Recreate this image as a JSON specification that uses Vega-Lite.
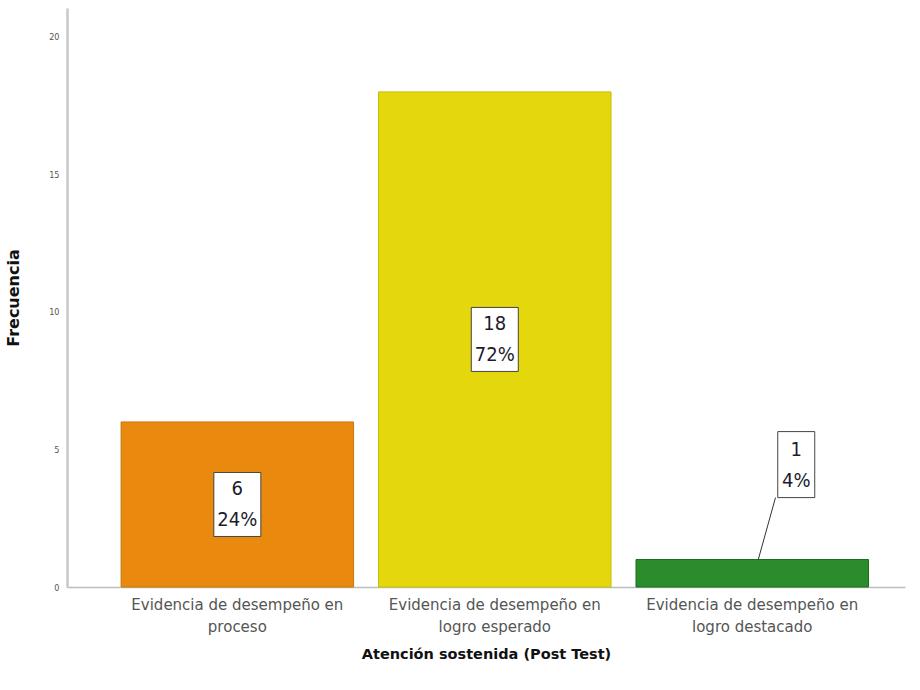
{
  "$schema": "https://vega.github.io/schema/vega-lite/v6.json",
  "autosize": "none",
  "padding": {"left": 67, "top": 8, "right": 15, "bottom": 103},
  "width": 838,
  "height": 579,
  "background": "white",
  "config": {"view": {"stroke": null}, "font": "DejaVu Sans Condensed, Liberation Sans, sans-serif"},
  "data": {"values": [
    {"cat": "Evidencia de desempeño en|proceso", "value": 6, "pct": "24%"},
    {"cat": "Evidencia de desempeño en|logro esperado", "value": 18, "pct": "72%"},
    {"cat": "Evidencia de desempeño en|logro destacado", "value": 1, "pct": "4%"}
  ]},
  "transform": [
    {"calculate": "datum.value >= 3 ? datum.value / 2 : 4.45", "as": "labelY"},
    {"calculate": "[datum.value + '', datum.pct]", "as": "lbl"}
  ],
  "encoding": {
    "x": {
      "field": "cat", "type": "nominal", "sort": null,
      "scale": {"paddingInner": 0.097, "paddingOuter": 0.176, "align": 0.597},
      "axis": {
        "title": "Atención sostenida (Post Test)",
        "titleFont": "DejaVu Sans, sans-serif", "titleFontSize": 14.5, "titleFontWeight": "bold", "titleColor": "#111",
        "titlePadding": 13,
        "labelExpr": "split(datum.label, '|')",
        "labelLimit": 400,
        "labelAngle": 0, "labelFont": "DejaVu Sans, sans-serif", "labelFontSize": 15, "labelColor": "#555",
        "labelLineHeight": 22, "labelPadding": 10,
        "ticks": false, "domainColor": "#bdbdbd", "domainWidth": 1.5
      }
    }
  },
  "layer": [
    {
      "mark": {"type": "bar", "strokeWidth": 1},
      "encoding": {
        "y": {
          "field": "value", "type": "quantitative",
          "scale": {"domain": [0, 21.05], "nice": false},
          "axis": {
            "title": "Frecuencia", "values": [0, 5, 10, 15, 20],
            "titleFont": "DejaVu Sans, sans-serif", "titleFontSize": 16, "titleFontWeight": "bold", "titleColor": "#111",
            "titlePadding": 27,
            "labelFont": "DejaVu Sans Condensed, Liberation Sans, sans-serif", "labelFontSize": 9, "labelColor": "#555", "labelPadding": 8,
            "ticks": false, "grid": false, "domainColor": "#c8c8c8", "domainWidth": 2.5
          }
        },
        "fill": {
          "field": "cat", "type": "nominal", "sort": null, "legend": null,
          "scale": {"range": ["#E98A0E", "#E4D70B", "#2B8C2B"]}
        },
        "stroke": {
          "field": "cat", "type": "nominal", "sort": null, "legend": null,
          "scale": {"range": ["#C9760A", "#C8BC08", "#1E6A1E"]}
        }
      }
    },
    {
      "transform": [{"filter": "datum.value < 3"}],
      "mark": {"type": "rule", "color": "#333", "strokeWidth": 1},
      "encoding": {
        "x": {"field": "cat", "type": "nominal", "sort": null, "bandPosition": 0.526},
        "x2": {"field": "cat", "bandPosition": 0.6},
        "y": {"datum": 1},
        "y2": {"datum": 3.25}
      }
    },
    {
      "transform": [{"filter": "datum.value >= 3"}],
      "mark": {"type": "rect", "width": 47, "height": 64, "fill": "white", "stroke": "#444", "strokeWidth": 1},
      "encoding": {
        "y": {"field": "labelY", "type": "quantitative"}
      }
    },
    {
      "transform": [{"filter": "datum.value < 3"}],
      "mark": {"type": "rect", "width": 37, "height": 66, "fill": "white", "stroke": "#444", "strokeWidth": 1, "xOffset": 44},
      "encoding": {
        "y": {"field": "labelY", "type": "quantitative"}
      }
    },
    {
      "transform": [{"filter": "datum.value >= 3"}],
      "mark": {"type": "text", "font": "DejaVu Sans Condensed, Liberation Sans, sans-serif", "fontSize": 20, "color": "#1c1c2c", "lineHeight": 31, "baseline": "middle", "dy": -15},
      "encoding": {
        "y": {"field": "labelY", "type": "quantitative"},
        "text": {"field": "lbl"}
      }
    },
    {
      "transform": [{"filter": "datum.value < 3"}],
      "mark": {"type": "text", "font": "DejaVu Sans Condensed, Liberation Sans, sans-serif", "fontSize": 20, "color": "#1c1c2c", "lineHeight": 31, "baseline": "middle", "dy": -15, "dx": 44},
      "encoding": {
        "y": {"field": "labelY", "type": "quantitative"},
        "text": {"field": "lbl"}
      }
    }
  ]
}
